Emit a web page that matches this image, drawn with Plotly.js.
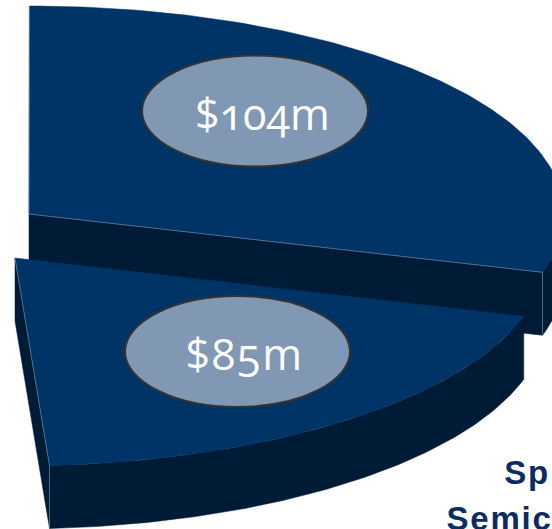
<!DOCTYPE html>
<html>
<head>
<meta charset="utf-8">
<script src="https://cdn.plot.ly/plotly-3.0.1.min.js"></script>
<style>
html, body { margin: 0; padding: 0; background: #fff; overflow: hidden; }
#chart { width: 552px; height: 529px; }
.annotation-text { font-variant-numeric: oldstyle-nums; font-feature-settings: "onum" 1; }
.annotation:nth-child(n+3) .annotation-text { letter-spacing: 1.8px; }
</style>
</head>
<body>
<div id="chart"></div>
<script>
// Slice values in $m, and the whole pie they are a share of
const sliceNames = ['upper', 'lower'];
const sliceValues = [104, 85];
const pieTotal = 386;
const caption = ['Sp', 'Semic'];

// Pie projection in plot units
const radiusY = 208, depth = 63;
const radiusX = { upper: 535, lower: 530 };
const centres = { upper: [29, 214], lower: [15, 258] };
const faceColour = '#003366', wallColour = '#001b36', edgeColour = '#5f7d9c';
const badgeColour = '#8098b3', badgeEdge = '#333333', captionColour = '#0b2c63';
const badges = { upper: [255, 111, 113, 55.5], lower: [237.5, 351.5, 112.5, 55.5] };

const rad = d => d * Math.PI / 180;
// Perspective foreshortening of the true pie angle
const screenAngle = deg => deg + 6.7 + 9.7 * Math.cos(rad(deg + 9));
const sweep = v => v / pieTotal * 360;

function arc(name, fromDeg, toDeg) {
  const centre = centres[name];
  const pts = [];
  const n = 120;
  for (let i = 0; i <= n; i++) {
    const a = rad(screenAngle(fromDeg + (toDeg - fromDeg) * i / n));
    pts.push([centre[0] + radiusX[name] * Math.cos(a), centre[1] + radiusY * Math.sin(a)]);
  }
  return pts;
}
const drop = pts => pts.map(p => [p[0], p[1] + depth]);

function poly(pts, colour) {
  return {
    type: 'scatter', mode: 'lines', fill: 'toself', fillcolor: colour,
    x: pts.map(p => p[0]).concat(pts[0][0]),
    y: pts.map(p => p[1]).concat(pts[0][1]),
    line: { color: colour, width: 0.5 }, hoverinfo: 'skip'
  };
}
function edge(pts) {
  return {
    type: 'scatter', mode: 'lines',
    x: pts.map(p => p[0]), y: pts.map(p => p[1]),
    line: { color: edgeColour, width: 0.8 }, hoverinfo: 'skip'
  };
}

const upperArc = arc('upper', 0, -sweep(sliceValues[0]));
const lowerArc = arc('lower', 0, sweep(sliceValues[1]));
const cu = centres.upper, cl = centres.lower;
const uv = upperArc[0], lv = lowerArc[lowerArc.length - 1];

// Rim of the upper slice, from its cut edge round to the widest point
const upperRim = upperArc.filter(p => p[1] >= cu[1]);

const traces = [
  poly(upperRim.concat(drop(upperRim).reverse()), wallColour),
  poly([cu, uv, [uv[0], uv[1] + depth], [cu[0], cu[1] + depth]], wallColour),
  poly([cu].concat(upperArc), faceColour),
  edge([cu, uv, [uv[0], uv[1] + depth]]),
  edge([cu, upperArc[upperArc.length - 1]]),
  poly([cl, lv, [lv[0], lv[1] + depth], [cl[0], cl[1] + depth]], wallColour),
  poly(lowerArc.concat(drop(lowerArc).reverse()), wallColour),
  poly([cl].concat(lowerArc), faceColour),
  edge([cl, lv, [lv[0], lv[1] + depth]])
];

const shapes = sliceNames.map(name => {
  const b = badges[name];
  return {
    type: 'circle', xref: 'x', yref: 'y',
    x0: b[0] - b[2], x1: b[0] + b[2], y0: b[1] - b[3], y1: b[1] + b[3],
    fillcolor: badgeColour, line: { color: badgeEdge, width: 2 }
  };
});

const annotations = sliceNames.map((name, i) => ({
  x: badges[name][0] + 7, y: badges[name][1] + 2, xref: 'x', yref: 'y',
  text: '$' + sliceValues[i] + 'm', showarrow: false,
  font: { family: '"Open Sans", sans-serif', size: 43, color: '#ffffff' }
})).concat([
  { x: 505, y: 485, yshift: -7, text: caption[0], xanchor: 'left', yanchor: 'bottom' },
  { x: 450, y: 529, yshift: -9, text: caption[1], xanchor: 'left', yanchor: 'bottom' }
].map(c => Object.assign(c, {
  xref: 'x', yref: 'y', showarrow: false, borderpad: 0,
  font: { family: '"Liberation Sans", Arial, sans-serif', size: 33, color: captionColour, weight: 700 }
})));

Plotly.newPlot('chart', traces, {
  width: 552, height: 529,
  margin: { l: 0, r: 0, t: 0, b: 0 },
  paper_bgcolor: '#ffffff', plot_bgcolor: '#ffffff',
  showlegend: false,
  xaxis: { range: [0, 552], visible: false, fixedrange: true },
  yaxis: { range: [529, 0], visible: false, fixedrange: true },
  shapes: shapes,
  annotations: annotations
}, { displayModeBar: false, staticPlot: true });
</script>
</body>
</html>
